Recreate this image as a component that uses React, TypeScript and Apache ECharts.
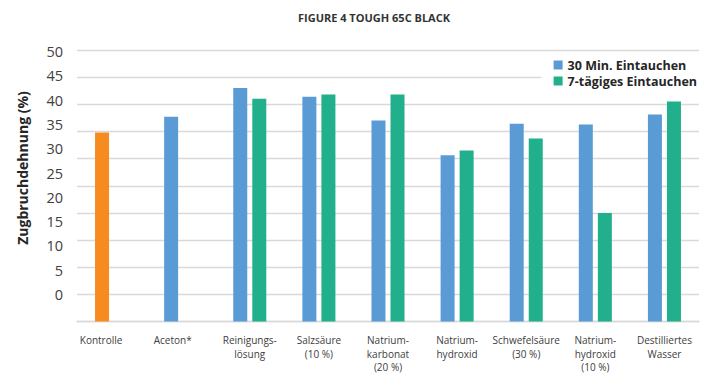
import React, { useEffect, useRef } from "react";
import * as echarts from "echarts";

const categories = [
  "Kontrolle",
  "Aceton*",
  "Reinigungs-\nlösung",
  "Salzsäure\n(10 %)",
  "Natrium-\nkarbonat\n(20 %)",
  "Natrium-\nhydroxid",
  "Schwefelsäure\n(30 %)",
  "Natrium-\nhydroxid\n(10 %)",
  "Destilliertes\nWasser",
];
const seriesNames = ["30 Min. Eintauchen", "7-tägiges Eintauchen"];
const min30 = [34.8, 37.7, 43.0, 41.4, 37.0, 30.6, 36.4, 36.3, 38.1];
const days7: (number | null)[] = [null, null, 41.0, 41.8, 41.8, 31.5, 33.7, 20.0, 40.5];
const yTickLabels = [0, 5, 10, 15, 20, 25, 30, 35, 40, 45, 50];

const FONT = "'Open Sans', 'Noto Sans', sans-serif";
const BLUE = "#5B9BD5";
const GREEN = "#21AF8C";
const ORANGE = "#F68B1F";

export default function App() {
  const ref = useRef<HTMLDivElement>(null);
  useEffect(() => {
    document.body.style.margin = "0";
    const chart = echarts.init(ref.current!, undefined, { renderer: "svg" });
    chart.setOption({
      animation: false,
      backgroundColor: "#fff",
      textStyle: { fontFamily: FONT },
      graphic: [
        {
          type: "text",
          x: 374,
          y: 17,
          style: {
            text: "FIGURE 4 TOUGH 65C BLACK",
            font: `bold 11px ${FONT}`,
            fill: "#333",
            textAlign: "center",
            textVerticalAlign: "middle",
          },
        },
        {
          type: "text",
          x: 22.5,
          y: 168,
          rotation: Math.PI / 2,
          style: {
            text: "Zugbruchdehnung (%)",
            font: `bold 14px ${FONT}`,
            fill: "#262626",
            textAlign: "center",
            textVerticalAlign: "middle",
          },
        },
      ],
      legend: {
        orient: "vertical",
        right: 10,
        top: 55,
        itemWidth: 9,
        itemHeight: 9,
        itemGap: 2,
        padding: [3, 4, 3, 12],
        backgroundColor: "#fff",
        icon: "rect",
        align: "left",
        data: seriesNames,
        textStyle: {
          fontFamily: FONT,
          fontSize: 12.5,
          fontWeight: "bold",
          color: "#262626",
          lineHeight: 14,
        },
      },
      grid: { left: 77, right: 12, top: 50, bottom: 51, containLabel: false },
      xAxis: {
        type: "category",
        data: categories,
        axisTick: { show: false },
        axisLine: { lineStyle: { color: "#d9d9d9", width: 1.3 } },
        axisLabel: {
          interval: 0,
          margin: 12,
          fontSize: 10,
          lineHeight: 13.5,
          color: "#404040",
          fontFamily: FONT,
          formatter: (v: string, i: number) =>
            i === 0 ? `{k|${v}}` : i === 1 ? `{a|${v}}` : v,
          rich: {
            k: { fontSize: 10, color: "#404040", fontFamily: FONT, padding: [0, 21, 0, 0] },
            a: { fontSize: 10, color: "#404040", fontFamily: FONT, padding: [0, 16, 0, 0] },
          },
        },
      },
      yAxis: [
        {
          type: "value",
          min: 0,
          max: 50,
          interval: 5,
          axisLabel: { show: false },
          axisLine: { show: false },
          axisTick: { show: false },
          splitLine: { lineStyle: { color: "#d9d9d9", width: 1.3 } },
        },
        {
          type: "value",
          position: "left",
          min: -5.59,
          max: 50.35,
          axisLine: { show: false },
          axisTick: { show: false },
          splitLine: { show: false },
          axisLabel: {
            customValues: yTickLabels,
            margin: 14,
            fontSize: 14.5,
            color: "#404040",
            fontFamily: FONT,
          },
        },
      ],
      series: [
        {
          name: seriesNames[0],
          type: "bar",
          yAxisIndex: 0,
          barWidth: 14,
          barGap: "36%",
          itemStyle: { color: BLUE },
          data: min30.map((v, i) =>
            i === 0 ? { value: v, itemStyle: { color: ORANGE } } : v
          ),
        },
        {
          name: seriesNames[1],
          type: "bar",
          yAxisIndex: 0,
          barWidth: 14,
          barGap: "36%",
          itemStyle: { color: GREEN },
          data: days7.map((v) => (v === null ? "-" : v)),
        },
      ],
    });
    return () => chart.dispose();
  }, []);
  return <div ref={ref} style={{ width: 711, height: 374 }} />;
}
